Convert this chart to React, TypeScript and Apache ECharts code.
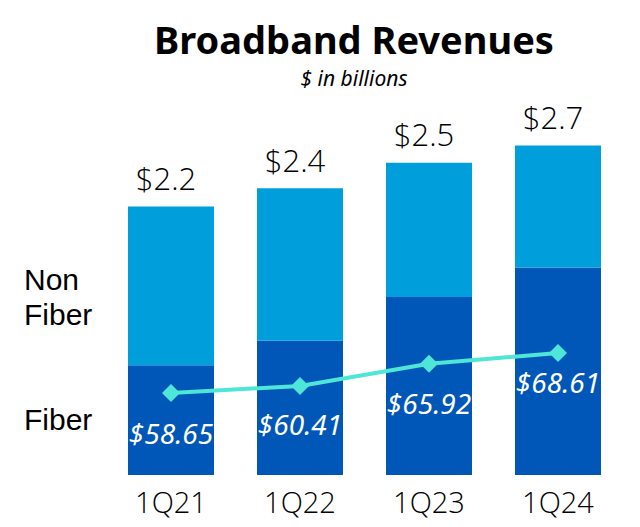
import React, { useEffect, useRef } from "react";
import * as echarts from "echarts";

const categories = ["1Q21", "1Q22", "1Q23", "1Q24"];
const fiberValues = [0.9, 1.1, 1.46, 1.7];
const nonFiberValues = [1.3, 1.25, 1.1, 1.0];
const totalLabels = ["$2.2", "$2.4", "$2.5", "$2.7"];
const arpuValues = [58.65, 60.41, 65.92, 68.61];
const arpuLabelDistance = [17, 15, 16, 6];

const FONT = "'Noto Sans', 'Open Sans', sans-serif";
const LIGHT = "'Open Sans', 'Noto Sans', sans-serif";
const SIDE = "'Liberation Sans', Arial, sans-serif";

export default function App() {
  const ref = useRef<HTMLDivElement>(null);
  useEffect(() => {
    if (!ref.current) return;
    const chart = echarts.init(ref.current, null, { renderer: "svg" });
    chart.setOption({
      animation: false,
      backgroundColor: "#ffffff",
      title: {
        text: "Broadband Revenues",
        subtext: "$ in billions",
        left: 349,
        textAlign: "center",
        top: 15,
        itemGap: 9,
        textStyle: { fontFamily: FONT, fontSize: 38, fontWeight: "bold", color: "#000" },
        subtextStyle: { fontFamily: FONT, fontSize: 21, fontStyle: "italic", color: "#000" },
      },
      grid: { left: 106.5, right: 17.5, top: 109, bottom: 52 },
      xAxis: {
        type: "category",
        data: categories,
        axisLine: { show: false },
        axisTick: { show: false },
        axisLabel: { fontFamily: LIGHT, fontSize: 29, fontWeight: 300, color: "#000", margin: 12 },
      },
      yAxis: [
        { type: "value", min: 0, max: 3, show: false, splitLine: { show: false } },
        { type: "value", min: 38.25, max: 129.3, show: false, splitLine: { show: false } },
      ],
      series: [
        {
          name: "Fiber",
          type: "bar",
          stack: "rev",
          barWidth: 86,
          data: fiberValues,
          itemStyle: { color: "#0057B8" },
        },
        {
          name: "Non Fiber",
          type: "bar",
          stack: "rev",
          barWidth: 86,
          data: nonFiberValues,
          itemStyle: { color: "#009FDB" },
          label: {
            show: true,
            position: "top",
            distance: 13,
            offset: [-5, 0],
            fontFamily: LIGHT,
            fontWeight: 300,
            fontSize: 31,
            color: "#000",
            formatter: (p: any) => totalLabels[p.dataIndex],
          },
        },
        {
          name: "ARPU",
          type: "line",
          yAxisIndex: 1,
          data: arpuValues.map((v, i) => ({
            value: v,
            label: { distance: arpuLabelDistance[i] },
          })),
          symbol: "diamond",
          symbolSize: 18,
          lineStyle: { color: "#4EE6D6", width: 4 },
          itemStyle: { color: "#4EE6D6" },
          label: {
            show: true,
            position: "bottom",
            fontFamily: FONT,
            fontSize: 28,
            fontStyle: "italic",
            color: "#ffffff",
            formatter: (p: any) => "$" + p.value.toFixed(2),
          },
          z: 5,
        },
      ],
      graphic: [
        {
          type: "text",
          left: 24,
          top: 264,
          style: { text: "Non", fontFamily: SIDE, fontSize: 30, fill: "#000" },
        },
        {
          type: "text",
          left: 24,
          top: 299,
          style: { text: "Fiber", fontFamily: SIDE, fontSize: 30, fill: "#000" },
        },
        {
          type: "text",
          left: 24,
          top: 404,
          style: { text: "Fiber", fontFamily: SIDE, fontSize: 30, fill: "#000" },
        },
      ],
    });
    return () => chart.dispose();
  }, []);
  return (
    <div
      ref={ref}
      style={{ position: "fixed", left: 0, top: 0, width: 640, height: 527 }}
    />
  );
}
